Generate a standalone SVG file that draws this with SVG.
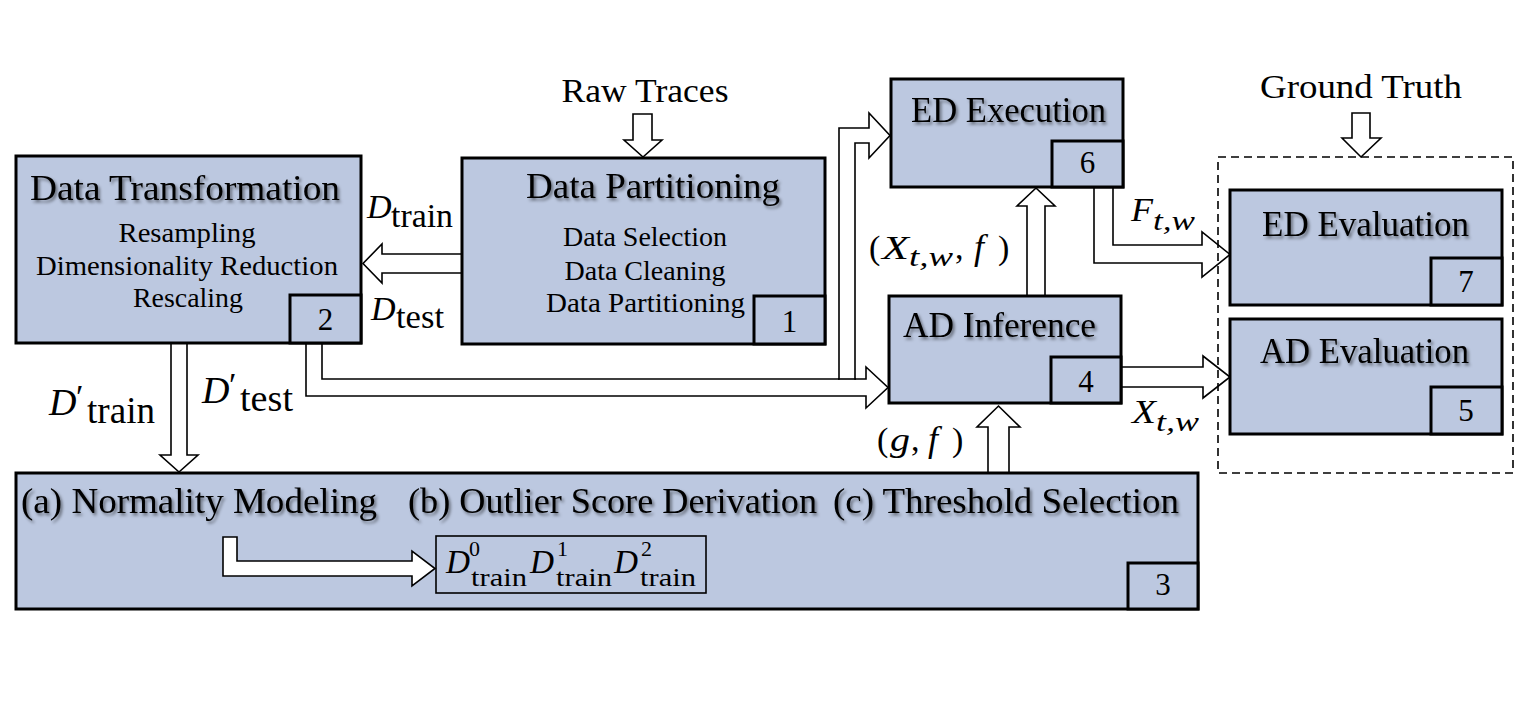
<svg xmlns="http://www.w3.org/2000/svg" width="1523" height="706" viewBox="0 0 1523 706">
<defs>
<filter id="sh" x="-5%" y="-20%" width="115%" height="150%">
<feDropShadow dx="2" dy="2.5" stdDeviation="1.6" flood-color="#000" flood-opacity="0.45"/>
</filter>
</defs>
<style>
text { font-family: "Liberation Serif", "DejaVu Serif", serif; fill:#000; }
.box { fill:#BCC8E0; stroke:#000; stroke-width:3; }
.num { fill:#BCC8E0; stroke:#000; stroke-width:3; }
.arr { fill:#fff; stroke:#000; stroke-width:1.6; stroke-linejoin:miter; }
.ln { fill:none; stroke:#000; stroke-width:1.6; }
.title { font-size:35px; filter:url(#sh); }
.sub { font-size:28px; text-anchor:middle; }
.n { font-size:31px; text-anchor:middle; }
.plain { font-size:34px; }
.mi { font-style:italic; }
.dash { fill:none; stroke:#000; stroke-width:1.6; stroke-dasharray:8 5; }
</style>
<rect width="1523" height="706" fill="#fff"/>

<g id="connectors">
  <path class="arr" d="M633,114 H652 V140 H662 L643,157 L624,140 H633 Z"/>
  <path class="arr" d="M1352,113 H1370 V138 H1381 L1361,157 L1342,138 H1352 Z"/>
  <path class="arr" d="M462,254 H382 V244 L363,263.5 L382,283 V273 H462"/>
  <path class="arr" d="M171,343 V455 H160 L179,472 L198,455 H187 V343"/>
  <path class="arr" d="M306,343 V396 H866 V408 L888,387.5 L866,367 V379 H855 V143 H869 V158 L890,135.5 L869,113 V128 H839 V379 H322 V343"/>
  <line class="ln" x1="838" y1="379" x2="856" y2="379"/>
  <path class="arr" d="M1027,296 V206 H1017 L1036,188 L1055,206 H1045 V296"/>
  <path class="arr" d="M988,473 V427 H977 L998.5,406 L1020,427 H1009 V473"/>
  <path class="arr" d="M1094,187 V263 H1202 V277 L1230,254.5 L1202,232 V245 H1113 V187"/>
  <path class="arr" d="M1121,367 H1203 V356 L1230,377 L1203,398 V387 H1121"/>
</g>

<g id="raw-traces"><text class="plain" x="645" y="102" text-anchor="middle" textLength="167" lengthAdjust="spacingAndGlyphs">Raw Traces</text></g>
<g id="ground-truth"><text class="plain" x="1361" y="98" text-anchor="middle" textLength="202" lengthAdjust="spacingAndGlyphs">Ground Truth</text></g>

<g id="node-data-transformation">
  <rect class="box" x="16" y="156" width="345" height="187"/>
  <rect class="num" x="290" y="295" width="71" height="48"/>
  <text class="title" x="185" y="200" text-anchor="middle" textLength="310" lengthAdjust="spacingAndGlyphs">Data Transformation</text>
  <text class="sub" x="187" y="242" textLength="137" lengthAdjust="spacingAndGlyphs">Resampling</text>
  <text class="sub" x="187" y="275" textLength="302" lengthAdjust="spacingAndGlyphs">Dimensionality Reduction</text>
  <text class="sub" x="188" y="307" textLength="110" lengthAdjust="spacingAndGlyphs">Rescaling</text>
  <text class="n" x="325.5" y="330">2</text>
</g>

<g id="node-data-partitioning">
  <rect class="box" x="462" y="158" width="363" height="186"/>
  <rect class="num" x="754" y="296" width="71" height="48"/>
  <text class="title" x="653" y="198" text-anchor="middle" textLength="254" lengthAdjust="spacingAndGlyphs">Data Partitioning</text>
  <text class="sub" x="645" y="246" textLength="164" lengthAdjust="spacingAndGlyphs">Data Selection</text>
  <text class="sub" x="645" y="280" textLength="161" lengthAdjust="spacingAndGlyphs">Data Cleaning</text>
  <text class="sub" x="645.5" y="312" textLength="199" lengthAdjust="spacingAndGlyphs">Data Partitioning</text>
  <text class="n" x="789.5" y="332">1</text>
</g>

<g id="node-ed-execution">
  <rect class="box" x="891" y="79" width="232" height="108"/>
  <rect class="num" x="1052" y="141" width="71" height="46"/>
  <text class="title" x="911" y="122" textLength="195" lengthAdjust="spacingAndGlyphs">ED Execution</text>
  <text class="n" x="1087.5" y="173">6</text>
</g>

<g id="node-ad-inference">
  <rect class="box" x="889" y="296" width="232" height="107"/>
  <rect class="num" x="1051" y="357" width="70" height="46"/>
  <text class="title" x="903" y="337" textLength="193" lengthAdjust="spacingAndGlyphs">AD Inference</text>
  <text class="n" x="1086" y="392">4</text>
</g>

<g id="group-evaluation">
  <rect class="dash" x="1218" y="157" width="295" height="316"/>
</g>

<g id="node-ed-evaluation">
  <rect class="box" x="1230" y="190" width="272" height="115"/>
  <rect class="num" x="1431" y="258" width="71" height="47"/>
  <text class="title" x="1262" y="236" textLength="207" lengthAdjust="spacingAndGlyphs">ED Evaluation</text>
  <text class="n" x="1466" y="292">7</text>
</g>

<g id="node-ad-evaluation">
  <rect class="box" x="1230" y="319" width="272" height="115"/>
  <rect class="num" x="1431" y="387" width="71" height="47"/>
  <text class="title" x="1260" y="363" textLength="209" lengthAdjust="spacingAndGlyphs">AD Evaluation</text>
  <text class="n" x="1466" y="421">5</text>
</g>

<g id="node-modeling">
  <rect class="box" x="16" y="473" width="1182" height="136"/>
  <rect class="num" x="1128" y="563" width="70" height="46"/>
  <text class="title" x="21" y="513" textLength="356" lengthAdjust="spacingAndGlyphs">(a) Normality Modeling</text>
  <text class="title" x="408" y="513" textLength="409" lengthAdjust="spacingAndGlyphs">(b) Outlier Score Derivation</text>
  <text class="title" x="833" y="513" textLength="346" lengthAdjust="spacingAndGlyphs">(c) Threshold Selection</text>
  <path class="arr" d="M223,537 H237 V561 H412 V551 L435,568.5 L412,586 V576 H223 Z"/>
  <rect x="436" y="536" width="270" height="57" fill="none" stroke="#000" stroke-width="1.6"/>
  <text class="mi" x="446" y="573" font-size="34" textLength="24" lengthAdjust="spacingAndGlyphs">D</text>
  <text x="469" y="556" font-size="22">0</text>
  <text x="471" y="586" font-size="25" textLength="56" lengthAdjust="spacingAndGlyphs">train</text>
  <text class="mi" x="530" y="573" font-size="34" textLength="24" lengthAdjust="spacingAndGlyphs">D</text>
  <text x="557" y="556" font-size="22">1</text>
  <text x="556" y="586" font-size="25" textLength="56" lengthAdjust="spacingAndGlyphs">train</text>
  <text class="mi" x="614" y="573" font-size="34" textLength="24" lengthAdjust="spacingAndGlyphs">D</text>
  <text x="641" y="556" font-size="22">2</text>
  <text x="640" y="586" font-size="25" textLength="56" lengthAdjust="spacingAndGlyphs">train</text>
  <text class="n" x="1163" y="595">3</text>
</g>

<g id="labels">
  <text class="mi" x="367" y="218" font-size="34">D</text>
  <text x="391" y="227" font-size="34" textLength="62" lengthAdjust="spacingAndGlyphs">train</text>
  <text class="mi" x="371" y="320" font-size="34">D</text>
  <text x="396" y="328" font-size="34" textLength="48" lengthAdjust="spacingAndGlyphs">test</text>
  <text class="mi" x="49" y="415" font-size="38">D</text>
  <text x="76" y="408" font-size="34">′</text>
  <text x="87" y="423" font-size="37" textLength="68" lengthAdjust="spacingAndGlyphs">train</text>
  <text class="mi" x="202" y="403" font-size="38">D</text>
  <text x="229" y="396" font-size="34">′</text>
  <text x="240" y="411" font-size="37" textLength="53" lengthAdjust="spacingAndGlyphs">test</text>
  <text class="mi" x="1131" y="221" font-size="34" textLength="22" lengthAdjust="spacingAndGlyphs">F</text>
  <text class="mi" x="1153" y="230" font-size="28" textLength="42" lengthAdjust="spacingAndGlyphs">t,w</text>
  <text class="mi" x="1132" y="423" font-size="34" textLength="24" lengthAdjust="spacingAndGlyphs">X</text>
  <text class="mi" x="1156" y="431" font-size="28" textLength="43" lengthAdjust="spacingAndGlyphs">t,w</text>
  <text x="869" y="259" font-size="34">(</text>
  <text class="mi" x="882" y="259" font-size="34" textLength="27" lengthAdjust="spacingAndGlyphs">X</text>
  <text class="mi" x="909" y="266" font-size="28" textLength="44" lengthAdjust="spacingAndGlyphs">t,w</text>
  <text x="955" y="259" font-size="34">,</text>
  <text class="mi" x="974" y="259" font-size="36">f</text>
  <text x="998" y="259" font-size="34">)</text>
  <text x="877" y="451" font-size="34">(</text>
  <text class="mi" x="890" y="451" font-size="34" textLength="20" lengthAdjust="spacingAndGlyphs">g</text>
  <text x="911" y="451" font-size="34">,</text>
  <text class="mi" x="928" y="451" font-size="36">f</text>
  <text x="952" y="451" font-size="34">)</text>
</g>
</svg>
